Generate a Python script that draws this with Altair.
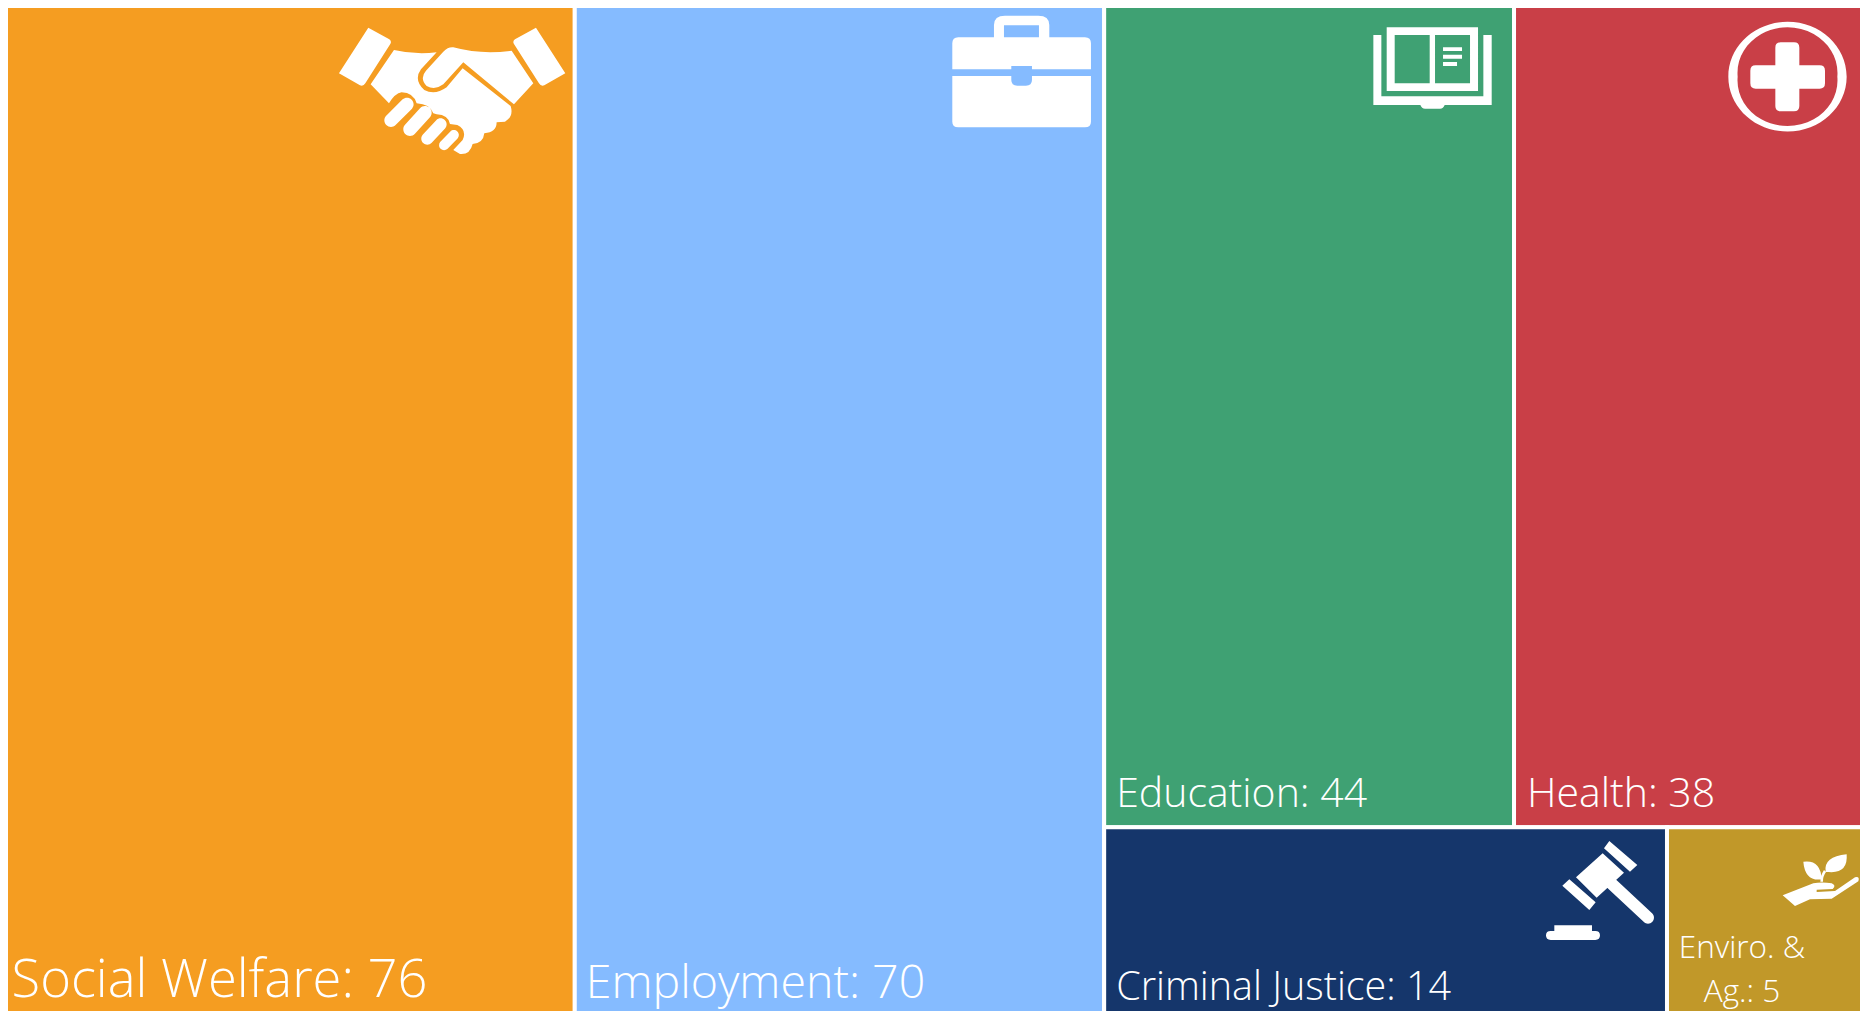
import altair as alt
import pandas as pd

# ---- data -----------------------------------------------------------------
CATEGORIES = ["Social Welfare", "Employment", "Education", "Health",
              "Criminal Justice", "Enviro. &\nAg."]
VALUES = [76, 70, 44, 38, 14, 5]
COLORS = ["#F59D21", "#85BBFF", "#3FA173", "#C93F47", "#15366B", "#C19829"]

# ---- canvas in reference pixels; the view shows what the page margin leaves -
W, H = 1868, 1019
VIEW_X0, VIEW_Y0 = 8, 8
VIEW_X1, VIEW_Y1 = 1860, 1011


def layout(v):
    """Slice-and-dice treemap: two full columns, then two rows of two."""
    total = sum(v)
    x1 = W * v[0] / total
    x2 = x1 + W * v[1] / total
    rest = W - x2
    top_sum = v[2] + v[3]
    ysplit = H * top_sum / (top_sum + v[4] + v[5])
    xa = x2 + rest * v[2] / top_sum
    xb = x2 + rest * v[4] / (v[4] + v[5])
    return [
        (0, x1, 0, H), (x1, x2, 0, H),
        (x2, xa, 0, ysplit), (xa, W, 0, ysplit),
        (x2, xb, ysplit, H), (xb, W, ysplit, H),
    ]


boxes = layout(VALUES)
tiles = pd.DataFrame({
    "name": CATEGORIES,
    "value": VALUES,
    "color": COLORS,
    "x0": [b[0] for b in boxes],
    "x1": [b[1] for b in boxes],
    "y0": [b[2] for b in boxes],
    "y1": [b[3] for b in boxes],
})
tiles["label"] = tiles["name"] + ": " + tiles["value"].astype(str)

# ---- label styling ---------------------------------------------------------
FONT = "Open Sans"
FONT_SIZES = [52.5, 46.5, 41, 41, 39.5, 31.5]
LABEL_PAD_X = [11.5, 11, 12, 13, 12, 75]
LABEL_PAD_Y = [22.5, 20.7, 20.6, 20.6, 19, 61]
tiles["size"] = FONT_SIZES
tiles["tx"] = [b[0] + p for b, p in zip(boxes, LABEL_PAD_X)]
tiles["ty"] = [b[3] - p for b, p in zip(boxes, LABEL_PAD_Y)]


# ---- icons: paths written in 3x crop units, so scale 1/3 -------------------
def stadium(x1, y1, x2, y2, r):
    dx, dy = x2 - x1, y2 - y1
    n = (dx * dx + dy * dy) ** 0.5
    px, py = -dy / n * r, dx / n * r
    return (f"M{x1 + px:.1f},{y1 + py:.1f}"
            f"A{r},{r} 0 0 1 {x1 - px:.1f},{y1 - py:.1f}"
            f"L{x2 - px:.1f},{y2 - py:.1f}"
            f"A{r},{r} 0 0 1 {x2 + px:.1f},{y2 + py:.1f}Z")


HANDSHAKE = (
    "M145,83L208,118Q216,124 211,132L136,250Q130,260 120,256L57,220Z"
    "M648,83L585,118Q577,124 582,132L657,250Q663,260 673,256L736,220Z"
    "M222,150Q285,165 350,157L303,208Q280,240 313,270Q345,287 380,262L428,205L572,318"
    "Q582,350 555,365L530,367Q530,397 493,400Q490,430 458,432Q450,465 420,462L400,450"
    "L428,420Q442,390 412,375L390,372Q385,345 350,343L340,340Q330,312 290,310"
    "Q280,278 245,277Q225,280 207,310L152,253Z"
    "M400,142Q485,165 575,152L640,250L582,313L430,187L370,253Q345,272 320,258"
    "Q298,235 318,212L370,155Q385,140 400,142Z"
    + stadium(212, 362, 262, 312, 20) + stadium(270, 388, 315, 338, 20)
    + stadium(322, 416, 362, 373, 18) + stadium(372, 436, 402, 405, 15)
)
BRIEFCASE = (
    "M37,130Q37,112 55,112L162,112L162,75Q162,47 195,47L295,47Q328,47 328,75L328,112"
    "L435,112Q453,112 453,130L453,208L276,208L276,198L214,198L214,208L37,208Z"
    "M192,76L192,112L297,112L297,76Z"
    "M37,228L214,228L214,240Q214,257 232,257L258,257Q276,257 276,240L276,228L453,228"
    "L453,365Q453,382 435,382L55,382Q37,382 37,365Z"
)
BOOK = (
    "M80,52L354,52L354,243L80,243Z"
    "M104,75L104,220L209,220L209,75Z"
    "M225,75L225,220L330,220L330,75Z"
    "M249,112L306,112L306,123L249,123Z"
    "M249,134L306,134L306,146L249,146Z"
    "M249,156L291,156L291,168L249,168Z"
    "M40,75L64,75L64,259L370,259L370,75L395,75L395,285L254,285Q250,296 240,296"
    "L195,296Q185,296 181,285L40,285Z"
)
MEDICAL = (
    "M55,200A177,164 0 1 1 410,200A177,164 0 1 1 55,200Z"
    "M83,200A150,137 0 1 0 382,200A150,137 0 1 0 83,200Z"
    "M212,97L252,97Q268,97 268,113L268,166L329,166Q345,166 345,182L345,220Q345,236 329,236"
    "L268,236L268,288Q268,304 252,304L212,304Q196,304 196,288L196,236L137,236Q121,236 121,220"
    "L121,182Q121,166 137,166L196,166L196,113Q196,97 212,97Z"
)
GAVEL = (
    "M218,100L282,158L200,233L138,172Z"
    "M238,63L322,135L300,155L222,85Z"
    "M118,178L197,247L178,270L97,197Z"
    + stadium(247, 193, 354, 293, 18)
    + "M73,316L186,316L186,333L196,333Q210,333 210,346Q210,360 196,360L62,360Q48,360 48,346"
    "Q48,333 62,333L73,333Z"
)
PLANT = (
    "M758,226L850,190Q875,185 905,190Q920,197 908,207L860,209L860,216L915,213L975,172"
    "Q990,168 985,184L905,236L840,238L795,258Z"
    "M820,125Q872,118 875,178Q825,185 820,125Z"
    "M950,103Q955,165 887,155Q880,110 950,103Z"
    "M871,185Q872,165 882,150L888,156Q878,170 879,185Z"
)
ICON_PATHS = [HANDSHAKE, BRIEFCASE, BOOK, MEDICAL, GAVEL, PLANT]
# crop origin of each icon, measured from the tile's top-right corner
ICON_DX = [254.8, 164.2, 154, 158, 137, 338]
ICON_DY = [0, 0, 10, 10, -7.3, -7.3]
ICON_SIZE = (2 / 3) ** 2  # Vega scales a custom path by sqrt(size) / 2

icons = pd.DataFrame({
    "path": ICON_PATHS,
    "ix": [b[1] - d for b, d in zip(boxes, ICON_DX)],
    "iy": [b[2] + d for b, d in zip(boxes, ICON_DY)],
})

# ---- chart ------------------------------------------------------------------
x_scale = alt.Scale(domain=[VIEW_X0, VIEW_X1])
y_scale = alt.Scale(domain=[VIEW_Y1, VIEW_Y0])
NOAX = None

rects = alt.Chart(tiles).mark_rect(stroke="white", strokeWidth=4, clip=True).encode(
    x=alt.X("x0:Q", scale=x_scale, axis=NOAX),
    x2="x1:Q",
    y=alt.Y("y0:Q", scale=y_scale, axis=NOAX),
    y2="y1:Q",
    fill=alt.Fill("color:N", scale=None, legend=None),
)


def label_layer(subset, align):
    return alt.Chart(subset).mark_text(
        font=FONT, fontWeight=300, color="white", align=align,
        baseline="alphabetic", lineBreak="\n", lineHeight=43.7,
    ).encode(
        x=alt.X("tx:Q", scale=x_scale, axis=NOAX),
        y=alt.Y("ty:Q", scale=y_scale, axis=NOAX),
        text="label:N",
        size=alt.Size("size:Q", scale=None, legend=None),
    )


left_labels = label_layer(tiles.iloc[:5], "left")
center_labels = label_layer(tiles.iloc[5:], "center")

icon_layer = alt.Chart(icons).mark_point(filled=True, fill="white", opacity=1, strokeWidth=0).encode(
    x=alt.X("ix:Q", scale=x_scale, axis=NOAX),
    y=alt.Y("iy:Q", scale=y_scale, axis=NOAX),
    shape=alt.Shape("path:N", scale=None, legend=None),
    size=alt.value(ICON_SIZE),
)

chart = (rects + icon_layer + left_labels + center_labels).properties(
    width=VIEW_X1 - VIEW_X0,
    height=VIEW_Y1 - VIEW_Y0,
    padding=0,
    autosize=alt.AutoSizeParams(type="none"),
    background="white",
).configure_view(stroke=None)

chart.save("out.html", embed_options={"renderer": "svg", "actions": False})
